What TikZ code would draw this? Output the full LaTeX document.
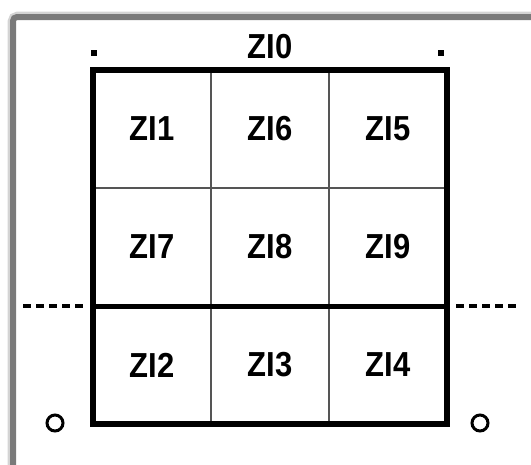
\documentclass[tikz,border=0pt]{standalone}
\usepackage{fontspec}
\setmainfont{Liberation Sans}
\usetikzlibrary{positioning}
\definecolor{framec}{HTML}{7A7A7A}
\definecolor{shadec}{HTML}{D4D4D4}
\definecolor{cellc}{HTML}{555555}
\newcommand{\zilabel}[1]{\scalebox{1}[1.12]{#1}}
\tikzset{
  cell/.style={draw=cellc, line width=2.6pt, minimum width=118pt, minimum height=118pt,
               inner sep=0pt, outer sep=0pt, font=\bfseries\fontsize{31}{31}\selectfont},
  toplabel/.style={font=\bfseries\fontsize{31}{31}\selectfont, inner sep=0pt},
  corner/.style={fill=black, minimum size=5.5pt, inner sep=0pt},
  hole/.style={circle, draw=black, line width=3pt, minimum size=16pt, inner sep=0pt},
  cut/.style={line width=3.6pt, dash pattern=on 8pt off 5pt},
}
\begin{document}
\begin{tikzpicture}[x=1pt, y=-1pt]
  \useasboundingbox (0,0) rectangle (531,464);
  % panel frame
  \draw[shadec, line width=11pt, rounded corners=5pt] (13,17) rectangle (560,490);
  \draw[framec, line width=6pt, rounded corners=4pt, fill=white] (13,17) rectangle (560,490);
  % grid of zones
  \node[cell] (zi1) at (152,129) {\zilabel{ZI1}};
  \node[cell, right=0pt of zi1] (zi6) {\zilabel{ZI6}};
  \node[cell, right=0pt of zi6] (zi5) {\zilabel{ZI5}};
  \node[cell, below=0pt of zi1] (zi7) {\zilabel{ZI7}};
  \node[cell, right=0pt of zi7] (zi8) {\zilabel{ZI8}};
  \node[cell, right=0pt of zi8] (zi9) {\zilabel{ZI9}};
  \node[cell, below=0pt of zi7] (zi2) {\zilabel{ZI2}};
  \node[cell, right=0pt of zi2] (zi3) {\zilabel{ZI3}};
  \node[cell, right=0pt of zi3] (zi4) {\zilabel{ZI4}};
  \draw[line width=6pt] (zi1.north west) rectangle (zi4.south east);
  \draw[line width=5pt] (zi2.north west) -- (zi4.north east);
  % marks outside the grid
  \node[toplabel] (zi0) at (270,47) {\zilabel{ZI0}};
  \node[corner] (tl) at (94,53) {};
  \node[corner] (tr) at (441,53) {};
  \node[hole] (hl) at (55,423) {};
  \node[hole] (hr) at (480,423) {};
  \coordinate (cl) at (23,306);
  \coordinate (cr) at (519,306);
  \draw[cut] (cl) -- ([xshift=-7pt]zi2.north west);
  \draw[cut] ([xshift=9pt]zi4.north east) -- (cr);
\end{tikzpicture}
\end{document}
